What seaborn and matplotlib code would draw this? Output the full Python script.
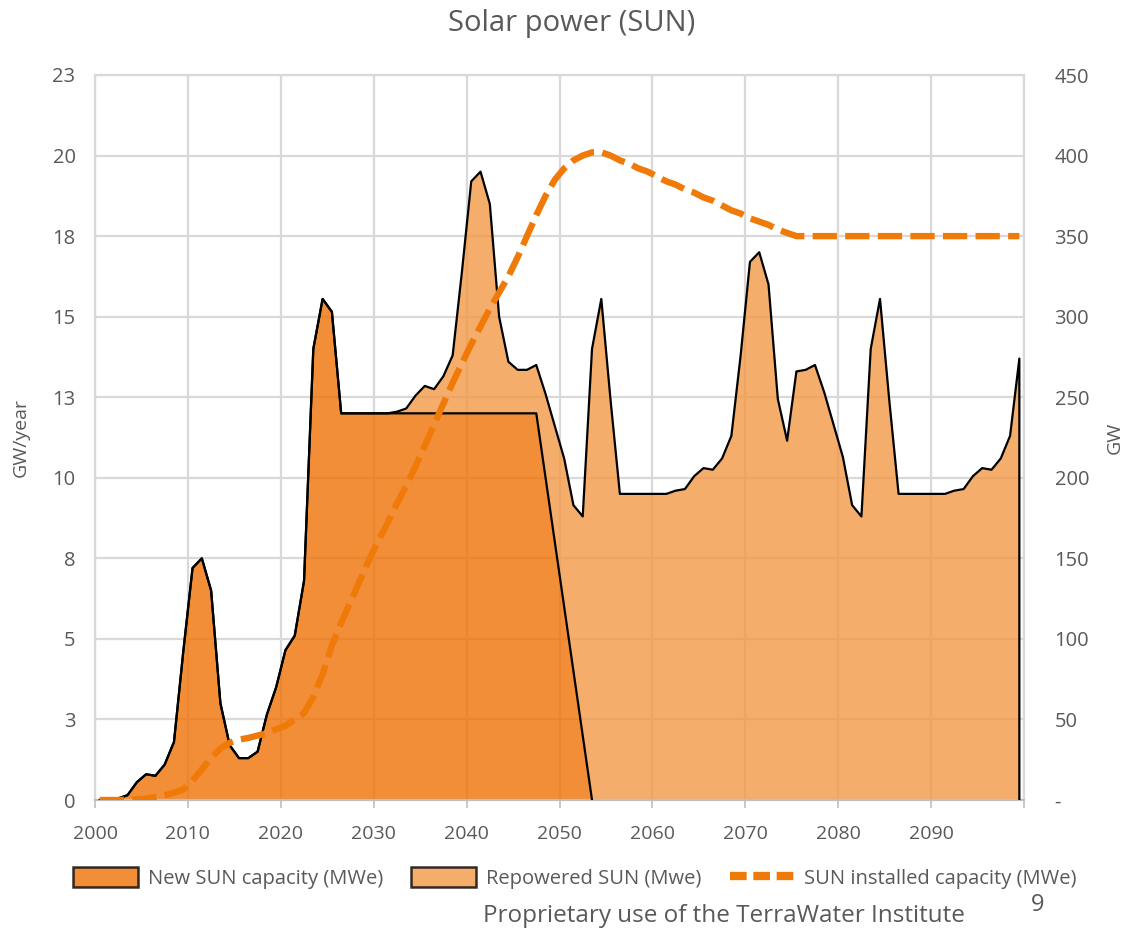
import numpy as np
import matplotlib
matplotlib.use("Agg")
import matplotlib.pyplot as plt
from matplotlib import font_manager
from matplotlib.patches import Patch
from matplotlib.lines import Line2D
import seaborn as sns

# ---------------- data ----------------
years = list(range(2000, 2100))

new_sun = [0, 0, 0.05, 0.15, 0.55, 0.8, 0.75, 1.1, 1.8, 4.6,
           7.2, 7.5, 6.5, 3.0, 1.7, 1.3, 1.3, 1.5, 2.65, 3.5,
           4.65, 5.1, 6.8, 14.0, 15.55, 15.15, 12, 12, 12, 12,
           12, 12, 12, 12, 12, 12, 12, 12, 12, 12,
           12, 12, 12, 12, 12, 12, 12, 12, 10, 8,
           6, 4, 2, 0, 0, 0, 0, 0, 0, 0,
           0, 0, 0, 0, 0, 0, 0, 0, 0, 0,
           0, 0, 0, 0, 0, 0, 0, 0, 0, 0,
           0, 0, 0, 0, 0, 0, 0, 0, 0, 0,
           0, 0, 0, 0, 0, 0, 0, 0, 0, 0]

repowered_sun = [0, 0, 0, 0, 0, 0, 0, 0, 0, 0,
                 0, 0, 0, 0, 0, 0, 0, 0, 0, 0,
                 0, 0, 0, 0, 0, 0, 0, 0, 0, 0,
                 0, 0, 0.05, 0.15, 0.55, 0.85, 0.75, 1.15, 1.8, 4.4,
                 7.2, 7.5, 6.5, 3.0, 1.6, 1.35, 1.35, 1.5, 2.6, 3.6,
                 4.6, 5.15, 6.8, 14.0, 15.55, 12.4, 9.5, 9.5, 9.5, 9.5,
                 9.5, 9.5, 9.6, 9.65, 10.05, 10.3, 10.25, 10.6, 11.3, 13.8,
                 16.7, 17.0, 16.0, 12.45, 11.15, 13.3, 13.35, 13.5, 12.65, 11.65,
                 10.65, 9.15, 8.8, 14.0, 15.55, 12.4, 9.5, 9.5, 9.5, 9.5,
                 9.5, 9.5, 9.6, 9.65, 10.05, 10.3, 10.25, 10.6, 11.3, 13.7]

installed_gw = [0, 0, 0, 0.2, 0.5, 0.9, 1.8, 3, 4.5, 6.5,
                12, 19, 26, 32, 35.5, 37.5, 38.5, 40, 41.5, 44,
                46, 50, 54, 64, 78, 96, 110, 123, 136, 149,
                161, 172, 184, 195, 207, 220, 233, 246, 259, 271,
                283, 294, 305, 315, 325, 337, 350, 363, 375, 385,
                392, 397, 400, 402, 402, 400, 397, 395, 392, 390,
                387, 384, 382, 379, 377, 374, 372, 369, 366, 364,
                361, 359, 357, 354, 352, 350, 350, 350, 350, 350,
                350, 350, 350, 350, 350, 350, 350, 350, 350, 350,
                350, 350, 350, 350, 350, 350, 350, 350, 350, 350]

x_ticks = [2000, 2010, 2020, 2030, 2040, 2050, 2060, 2070, 2080, 2090]
left_ticks = [0, 2.5, 5, 7.5, 10, 12.5, 15, 17.5, 20, 22.5]
left_tick_labels = ["0", "3", "5", "8", "10", "13", "15", "18", "20", "23"]
right_ticks = [0, 50, 100, 150, 200, 250, 300, 350, 400, 450]
right_tick_labels = ["-", "50", "100", "150", "200", "250", "300", "350", "400", "450"]

title = "Solar power (SUN)"
left_label = "GW/year"
right_label = "GW"
legend_labels = ["New SUN capacity (MWe)", "Repowered SUN (Mwe)", "SUN installed capacity (MWe)"]
footer = "Proprietary use of the TerraWater Institute"
page_no = "9"

# ---------------- style ----------------
sns.set_theme(style="white")
available = {f.name for f in font_manager.fontManager.ttflist}
main_font = "Open Sans" if "Open Sans" in available else "DejaVu Sans"
plt.rcParams["font.family"] = [main_font, "DejaVu Sans"]

TXT = "#595959"
GRID = "#d9d9d9"
DARK = "#EF7206"
LIGHT = "#F39946"
ALPHA = 0.8
DASH = "#F07A08"

fig = plt.figure(figsize=(11.4, 9.3), dpi=100)
ax = fig.add_axes([95 / 1140, 130 / 930, (1024 - 95) / 1140, 725 / 930])

yrs = np.array(years, dtype=float)
xc = yrs + 0.5  # points sit at category centres
new = np.array(new_sun, dtype=float)
rep = np.array(repowered_sun, dtype=float)
total = new + rep

ax.fill_between(xc, 0, new, color=DARK, alpha=ALPHA, lw=0, zorder=2)
ax.fill_between(xc, new, total, color=LIGHT, alpha=ALPHA, lw=0, zorder=2)

# outlines
last_nz = int(np.nonzero(new)[0][-1]) + 2
sns.lineplot(x=xc[:last_nz], y=new[:last_nz], ax=ax, color="black", lw=1.6,
             sort=False, estimator=None, zorder=3)
x_tot = np.append(xc, xc[-1])
y_tot = np.append(total, 0.0)
sns.lineplot(x=x_tot, y=y_tot, ax=ax, color="black", lw=1.6,
             sort=False, estimator=None, zorder=3)

ax.set_xlim(2000, 2100)
ax.set_ylim(0, 22.5)
ax.set_xticks(x_ticks + [2100])
ax.set_xticklabels([str(t) for t in x_ticks] + [""])
ax.set_yticks(left_ticks)
ax.set_yticklabels(left_tick_labels)
ax.set_axisbelow(True)
ax.grid(True, color=GRID, lw=1.6)
for s in ax.spines.values():
    s.set_color(GRID)
    s.set_linewidth(1.6)
ax.spines["bottom"].set_color("#bfbfbf")
ax.tick_params(axis="x", length=6, width=1.2, color="#bfbfbf", pad=12,
               labelsize=14, labelcolor=TXT, direction="out", bottom=True)
ax.tick_params(axis="y", length=0, pad=14, labelsize=14.5, labelcolor=TXT)
ax.set_ylabel(left_label, fontsize=14, color=TXT, labelpad=16)
ax.set_xlabel("")

ax2 = ax.twinx()
sns.lineplot(x=xc, y=np.array(installed_gw, dtype=float), ax=ax2, color=DASH,
             lw=4.6, sort=False, estimator=None, zorder=4)
ax2.lines[0].set_dashes([3.8, 1.3])
ax2.lines[0].set_dash_capstyle("butt")
ax2.set_ylim(0, 450)
ax2.set_xlim(2000, 2100)
ax2.set_yticks(right_ticks)
ax2.set_yticklabels(right_tick_labels)
ax2.tick_params(axis="y", length=0, pad=22, labelsize=14.5, labelcolor=TXT)
for lab in ax2.get_yticklabels():
    lab.set_horizontalalignment("left")
ax2.grid(False)
for s in ax2.spines.values():
    s.set_visible(False)
ax2.set_ylabel(right_label, fontsize=14, color=TXT, labelpad=12)
ax2.patch.set_visible(False)

fig.text(572 / 1140, 1 - 24 / 930, title, ha="center", va="center",
         fontsize=21, color=TXT)

handles = [Patch(facecolor=DARK, alpha=ALPHA, edgecolor="black", lw=1.8),
           Patch(facecolor=LIGHT, alpha=ALPHA, edgecolor="black", lw=1.8),
           Line2D([0], [0], color=DASH, lw=6, dashes=[2.0, 0.8], dash_capstyle="butt")]
leg = fig.legend(handles, legend_labels, loc="center", ncol=3,
                 bbox_to_anchor=(575 / 1140, 1 - 878 / 930), frameon=False,
                 prop={"size": 14.5},
                 handlelength=3.2, handleheight=1.1, handletextpad=0.5,
                 columnspacing=1.4, labelcolor=TXT)

fig.text(724 / 1140, 1 - 916 / 930, footer, ha="center", va="center",
         fontsize=17.5, color=TXT)
fig.text(1038 / 1140, 1 - 905 / 930, page_no, ha="center", va="center",
         fontsize=17, color=TXT)

fig.savefig("out.png", dpi=100)
